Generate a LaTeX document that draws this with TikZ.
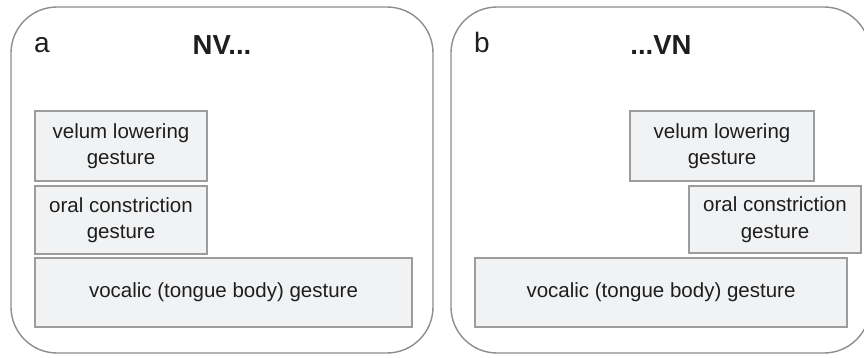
\documentclass[tikz,border=0pt]{standalone}
\usepackage{fontspec}
\setmainfont{Liberation Sans}
\definecolor{panelline}{HTML}{8E8E8E}
\definecolor{boxline}{HTML}{9C9C9C}
\definecolor{boxfill}{HTML}{F1F2F4}
\definecolor{ink}{HTML}{1E1E1E}
\tikzset{
  panel/.style={draw=panelline, line width=1.4pt, rounded corners=46pt, inner sep=0pt},
  gesture/.style={draw=boxline, fill=boxfill, line width=1.3pt, inner sep=0pt,
    align=center, text=ink, font=\fontsize{20.5}{26.5}\selectfont},
  tag/.style={text=ink, inner sep=0pt, font=\fontsize{28}{30}\selectfont},
  heading/.style={text=ink, inner sep=0pt, font=\fontsize{27.5}{30}\selectfont\bfseries},
}
\begin{document}
\begin{tikzpicture}[x=1pt, y=-1pt]
\useasboundingbox (0,0) rectangle (864,358);

% two rounded panels
\node[panel, minimum width=422pt, minimum height=346pt] (pa) at (222,180) {};
\node[panel, minimum width=419pt, minimum height=346pt] (pb) at (660.5,180) {};

% panel tags and headings
\node[tag, anchor=base west] (ta) at (34,53) {a};
\node[tag, anchor=base west] (tb) at (474,53) {b};
\node[heading, anchor=base] (ha) at (222,55) {NV...};
\node[heading, anchor=base] (hb) at (661,55) {...VN};

% panel a: NV...
\node[gesture, minimum width=172pt, minimum height=70pt] (va) at (121,146) {velum lowering\\gesture};
\node[gesture, minimum width=172pt, minimum height=68pt] (oa) at (121,220) {oral constriction\\gesture};
\node[gesture, minimum width=377pt, minimum height=69pt] (ga) at (223.5,292.5) {vocalic (tongue body) gesture};

% panel b: ...VN
\node[gesture, minimum width=184pt, minimum height=70pt] (vb) at (722,146) {velum lowering\\gesture};
\node[gesture, minimum width=172pt, minimum height=67pt] (ob) at (775,219.5) {oral constriction\\gesture};
\node[gesture, minimum width=372pt, minimum height=69pt] (gb) at (661,292.5) {vocalic (tongue body) gesture};
\end{tikzpicture}
\end{document}
